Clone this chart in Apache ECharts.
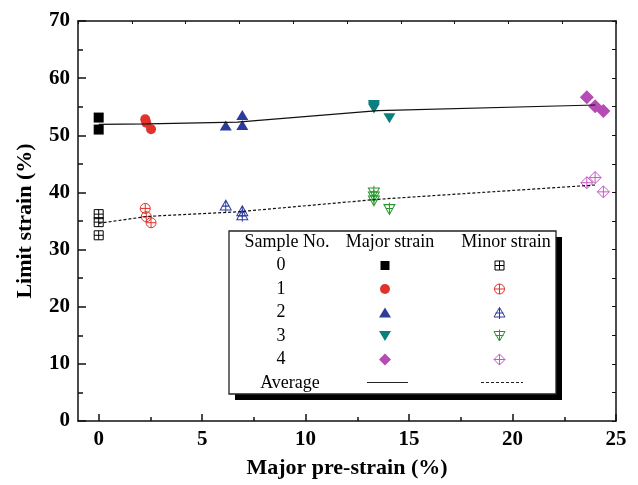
<!DOCTYPE html>
<html>
<head>
<meta charset="utf-8">
<script src="https://cdn.jsdelivr.net/npm/echarts@6/dist/echarts.min.js"></script>
<style>
html, body { margin: 0; padding: 0; background: #fff; }
#chart { width: 638px; height: 485px; }
</style>
</head>
<body>
<div id="chart"></div>
<script>
// major pre-strain (%) of each specimen, with its major / minor limit strain (%)
const s0X = [0, 0];
const s0Major = [53.1, 51.0];
const s0MinorX = [0, 0, 0];
const s0Minor = [36.2, 34.8, 32.5];

const s1X = [2.25, 2.3, 2.53];
const s1Major = [52.8, 52.2, 51.05];
const s1Minor = [37.2, 35.75, 34.7];

const s2X = [6.14, 6.94, 6.94];
const s2Major = [51.7, 53.55, 51.8];
const s2Minor = [37.6, 36.6, 35.9];

const s3X = [13.3, 13.3, 13.3, 14.05];
const s3Major = [55.3, 54.7, 55.0, 53.0];
const s3Minor = [40.1, 39.4, 38.7, 37.2];

const s4X = [23.59, 23.99, 24.39];
const s4Major = [56.65, 55.1, 54.25];
const s4Minor = [41.7, 42.6, 40.1];

// average curves
const avgX = [0, 2.35, 6.7, 13.5, 24.0];
const avgMajor = [51.9, 52.0, 52.3, 54.3, 55.3];
const avgMinor = [34.6, 35.8, 36.6, 38.8, 41.3];

const xTicks = [0, 5, 10, 15, 20, 25];
const xMinorTicks = [2.5, 7.5, 12.5, 17.5, 22.5];

// marker outlines
const BOX_PLUS = 'M0,0L10,0L10,10L0,10ZM5,0L5,10M0,5L10,5';
const CIRCLE_PLUS = 'M0,5A5,5,0,1,1,10,5A5,5,0,1,1,0,5ZM5,0L5,10M0,5L10,5';
const TRI_PLUS = 'M5,0L10,9L0,9ZM5,0L5,11M1.5,5.5L8.5,5.5';
const INV_TRI = 'M0,0L10,0L5,9Z';
const INV_TRI_PLUS = 'M0,2L10,2L5,11ZM5,0L5,11M1.5,5.5L8.5,5.5';
const DIAMOND_PLUS = 'M5,0L10,5L5,10L0,5ZM5,0L5,10M0,5L10,5';

const samples = [
  { name: '0', x: s0X, xMin: s0MinorX, major: s0Major, minor: s0Minor,
    majSym: 'rect', majSize: 10, majColor: '#000000',
    minSym: 'path://' + BOX_PLUS, minSize: 9, minColor: '#000000' },
  { name: '1', x: s1X, major: s1Major, minor: s1Minor,
    majSym: 'circle', majSize: 10, majColor: '#e0332b',
    minSym: 'path://' + CIRCLE_PLUS, minSize: 10, minColor: '#e0332b' },
  { name: '2', x: s2X, major: s2Major, minor: s2Minor,
    majSym: 'triangle', majSize: [12, 10], majColor: '#2b3c9c',
    minSym: 'path://' + TRI_PLUS, minSize: [11, 12], minColor: '#2b3c9c' },
  { name: '3', x: s3X, major: s3Major, minor: s3Minor,
    majSym: 'path://' + INV_TRI, majSize: [12, 10], majColor: '#0b7f7f',
    minSym: 'path://' + INV_TRI_PLUS, minSize: [11, 12], minColor: '#24962a' },
  { name: '4', x: s4X, major: s4Major, minor: s4Minor,
    majSym: 'diamond', majSize: 14, majColor: '#b64bb6',
    minSym: 'path://' + DIAMOND_PLUS, minSize: 12, minColor: '#c25bc2' }
];

function pairs(xs, ys) {
  return xs.map(function (x, i) { return [x, ys[i]]; });
}

const series = [];
samples.forEach(function (s) {
  series.push({
    type: 'scatter', name: 'major ' + s.name, data: pairs(s.x, s.major),
    symbol: s.majSym, symbolSize: s.majSize,
    itemStyle: { color: s.majColor, opacity: 1 }, z: 3
  });
  series.push({
    type: 'scatter', name: 'minor ' + s.name, data: pairs(s.xMin || s.x, s.minor),
    symbol: s.minSym, symbolSize: s.minSize,
    itemStyle: { color: 'rgba(0,0,0,0)', borderColor: s.minColor, borderWidth: 1, opacity: 1 }, z: 3
  });
});
series.push({
  type: 'line', name: 'avg major', data: pairs(avgX, avgMajor), symbol: 'none',
  lineStyle: { color: '#111', width: 1.2 }, z: 4
});
series.push({
  type: 'line', name: 'avg minor', data: pairs(avgX, avgMinor), symbol: 'none',
  lineStyle: { color: '#111', width: 1.2, type: [3, 2] }, z: 4
});

// legend table (drawn as graphic)
const FONT = '18px "Liberation Serif", "Times New Roman", serif';
const colMaj = 385, colMin = 499.5;
const rowY = [265.5, 289, 312.5, 336, 359.5];
const legend = [
  { type: 'rect', shape: { x: 235, y: 237, width: 327, height: 163 }, style: { fill: '#000' }, z: 100 },
  { type: 'rect', shape: { x: 229, y: 231, width: 327, height: 163 }, style: { fill: '#fff', stroke: '#222', lineWidth: 1.3 }, z: 101 }
];
function txt(t, x, y) {
  legend.push({ type: 'text', x: x, y: y, z: 102,
    style: { text: t, font: FONT, fill: '#000', textAlign: 'center', textVerticalAlign: 'middle', verticalAlign: 'middle' } });
}
function filled(fill) { return { fill: fill }; }
function open(stroke) { return { fill: 'none', stroke: stroke, lineWidth: 1 }; }
function poly(pts, cx, cy, style) {
  legend.push({ type: 'polygon', z: 102,
    shape: { points: pts.map(function (p) { return [cx + p[0], cy + p[1]]; }) }, style: style });
}
function seg(cx, cy, x1, y1, x2, y2, color) {
  legend.push({ type: 'line', z: 102,
    shape: { x1: cx + x1, y1: cy + y1, x2: cx + x2, y2: cy + y2 }, style: { stroke: color, lineWidth: 1 } });
}
txt('Sample No.', 287, 242);
txt('Major strain', 390, 242);
txt('Minor strain', 506, 242);
samples.forEach(function (s, i) { txt(s.name, 281, rowY[i]); });

// 0: square / boxed plus
poly([[-4.5, -4.5], [4.5, -4.5], [4.5, 4.5], [-4.5, 4.5]], colMaj, rowY[0], filled('#000'));
poly([[-4.5, -4.5], [4.5, -4.5], [4.5, 4.5], [-4.5, 4.5]], colMin, rowY[0], open('#000'));
seg(colMin, rowY[0], 0, -4.5, 0, 4.5, '#000');
seg(colMin, rowY[0], -4.5, 0, 4.5, 0, '#000');
// 1: circle / circled plus
legend.push({ type: 'circle', z: 102, shape: { cx: colMaj, cy: rowY[1], r: 5 }, style: filled('#e0332b') });
legend.push({ type: 'circle', z: 102, shape: { cx: colMin, cy: rowY[1], r: 5 }, style: open('#e0332b') });
seg(colMin, rowY[1], 0, -5, 0, 5, '#e0332b');
seg(colMin, rowY[1], -5, 0, 5, 0, '#e0332b');
// 2: triangle
poly([[0, -5], [6, 5], [-6, 5]], colMaj, rowY[2], filled('#2b3c9c'));
poly([[0, -5], [5.5, 4.5], [-5.5, 4.5]], colMin, rowY[2], open('#2b3c9c'));
seg(colMin, rowY[2], 0, -5, 0, 6.5, '#2b3c9c');
seg(colMin, rowY[2], -4, 0.5, 4, 0.5, '#2b3c9c');
// 3: inverted triangle
poly([[-6, -5], [6, -5], [0, 5]], colMaj, rowY[3], filled('#0b7f7f'));
poly([[-5.5, -4.5], [5.5, -4.5], [0, 5]], colMin, rowY[3], open('#24962a'));
seg(colMin, rowY[3], 0, -6.5, 0, 5, '#24962a');
seg(colMin, rowY[3], -4, -0.5, 4, -0.5, '#24962a');
// 4: diamond
poly([[0, -6], [6, 0], [0, 6], [-6, 0]], colMaj, rowY[4], filled('#b64bb6'));
poly([[0, -5.5], [5.5, 0], [0, 5.5], [-5.5, 0]], colMin, rowY[4], open('#c25bc2'));
seg(colMin, rowY[4], 0, -5.5, 0, 5.5, '#c25bc2');
seg(colMin, rowY[4], -5.5, 0, 5.5, 0, '#c25bc2');

txt('Average', 290, 383);
legend.push({ type: 'line', z: 102, shape: { x1: 367, y1: 382.5, x2: 408, y2: 382.5 }, style: { stroke: '#222', lineWidth: 1.2 } });
legend.push({ type: 'line', z: 102, shape: { x1: 481, y1: 382.5, x2: 523, y2: 382.5 }, style: { stroke: '#222', lineWidth: 1.2, lineDash: [3, 2] } });

const axisFont = { fontFamily: '"Liberation Serif", "Times New Roman", serif', fontWeight: 'bold', color: '#000' };
const lineStyle = { color: '#111', width: 1.5 };

const chart = echarts.init(document.getElementById('chart'));
chart.setOption({
  animation: false,
  backgroundColor: '#fff',
  grid: { left: 78, right: 22, top: 21, bottom: 64, containLabel: false },
  xAxis: [
    {
      type: 'value', position: 'bottom', min: -1, max: 25,
      name: 'Major pre-strain (%)', nameLocation: 'middle', nameGap: 36,
      nameTextStyle: Object.assign({ fontSize: 22 }, axisFont),
      axisLine: { onZero: false, lineStyle: lineStyle },
      axisTick: { inside: true, length: 7, customValues: xTicks, lineStyle: lineStyle },
      axisLabel: Object.assign({ fontSize: 21, margin: 8, customValues: xTicks }, axisFont),
      splitLine: { show: false }
    },
    {
      type: 'value', position: 'bottom', min: -1, max: 25,
      axisLine: { show: false },
      axisTick: { inside: true, length: 4, customValues: xMinorTicks, lineStyle: lineStyle },
      axisLabel: { show: false, customValues: xMinorTicks },
      splitLine: { show: false }
    },
    {
      type: 'value', position: 'top', min: 0, max: 10, interval: 1,
      axisLine: { onZero: false, lineStyle: lineStyle },
      axisTick: { inside: true, length: 3, lineStyle: { color: '#111', width: 1 } },
      axisLabel: { show: false },
      splitLine: { show: false }
    }
  ],
  yAxis: [
    {
      type: 'value', position: 'left', min: 0, max: 70, interval: 10,
      name: 'Limit strain (%)', nameLocation: 'middle', nameGap: 42,
      nameTextStyle: Object.assign({ fontSize: 22 }, axisFont),
      axisLine: { onZero: false, lineStyle: lineStyle },
      axisTick: { inside: true, length: 8, lineStyle: lineStyle },
      minorTick: { show: true, splitNumber: 2, length: 5, lineStyle: { color: '#111', width: 1.5 } },
      axisLabel: Object.assign({ fontSize: 21, margin: 8 }, axisFont),
      splitLine: { show: false }
    },
    {
      type: 'value', position: 'right', min: 0, max: 70, interval: 5,
      axisLine: { onZero: false, lineStyle: lineStyle },
      axisTick: { inside: true, length: 4, lineStyle: { color: '#111', width: 1 } },
      axisLabel: { show: false },
      splitLine: { show: false }
    }
  ],
  series: series,
  graphic: { elements: legend }
});
</script>
</body>
</html>
